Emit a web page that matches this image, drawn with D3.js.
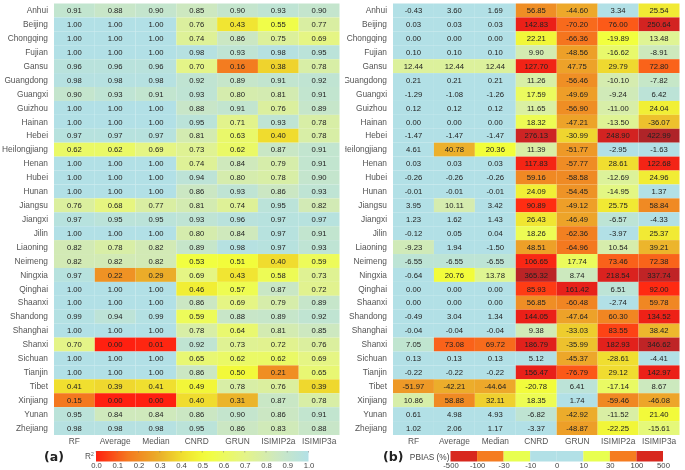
<!DOCTYPE html>
<html>
<head>
<meta charset="utf-8">
<script src="https://cdn.jsdelivr.net/npm/d3@7"></script>
<style>
  html, body { margin: 0; padding: 0; background: #fff; }
  svg { display: block; font-family: "Liberation Sans", Arial, sans-serif; filter: blur(0.3px); }
</style>
</head>
<body>
<svg id="chart"></svg>
<script>
const provinces = ['Anhui','Beijing','Chongqing','Fujian','Gansu','Guangdong','Guangxi','Guizhou','Hainan','Hebei','Heilongjiang','Henan','Hubei','Hunan','Jiangsu','Jiangxi','Jilin','Liaoning','Neimeng','Ningxia','Qinghai','Shaanxi','Shandong','Shanghai','Shanxi','Sichuan','Tianjin','Tibet','Xinjiang','Yunan','Zhejiang'];
const models = ['RF','Average','Median','CNRD','GRUN','ISIMIP2a','ISIMIP3a'];

// one row per province, same order as models
const r2Rows = [
  [0.91,0.88,0.90,0.85,0.90,0.93,0.90],
  [1.00,1.00,1.00,0.76,0.43,0.55,0.77],
  [1.00,1.00,1.00,0.74,0.86,0.75,0.69],
  [1.00,1.00,1.00,0.98,0.93,0.98,0.95],
  [0.96,0.96,0.96,0.70,0.16,0.38,0.78],
  [0.98,0.98,0.98,0.92,0.89,0.91,0.92],
  [0.90,0.93,0.91,0.93,0.80,0.81,0.91],
  [1.00,1.00,1.00,0.88,0.91,0.76,0.89],
  [1.00,1.00,1.00,0.95,0.71,0.93,0.78],
  [0.97,0.97,0.97,0.81,0.63,0.40,0.78],
  [0.62,0.62,0.69,0.73,0.62,0.87,0.91],
  [1.00,1.00,1.00,0.74,0.84,0.79,0.91],
  [1.00,1.00,1.00,0.94,0.80,0.78,0.90],
  [1.00,1.00,1.00,0.86,0.93,0.86,0.93],
  [0.76,0.68,0.77,0.81,0.74,0.95,0.82],
  [0.97,0.95,0.95,0.93,0.96,0.97,0.97],
  [1.00,1.00,1.00,0.80,0.84,0.97,0.91],
  [0.82,0.78,0.82,0.89,0.98,0.97,0.93],
  [0.82,0.82,0.82,0.53,0.51,0.40,0.59],
  [0.97,0.22,0.29,0.69,0.43,0.58,0.73],
  [1.00,1.00,1.00,0.46,0.57,0.87,0.72],
  [1.00,1.00,1.00,0.86,0.69,0.79,0.89],
  [0.99,0.94,0.99,0.59,0.88,0.89,0.92],
  [1.00,1.00,1.00,0.78,0.64,0.81,0.85],
  [0.70,0.00,0.01,0.92,0.73,0.72,0.76],
  [1.00,1.00,1.00,0.65,0.62,0.62,0.69],
  [1.00,1.00,1.00,0.86,0.50,0.21,0.65],
  [0.41,0.39,0.41,0.49,0.78,0.76,0.39],
  [0.15,0.00,0.00,0.40,0.31,0.87,0.78],
  [0.95,0.84,0.84,0.86,0.90,0.86,0.91],
  [0.98,0.98,0.98,0.95,0.86,0.83,0.88]
];
const pbiasRows = [
  [-0.43,3.60,1.69,56.85,-44.60,3.34,25.54],
  [0.03,0.03,0.03,142.83,-70.20,76.00,250.64],
  [0.00,0.00,0.00,22.21,-66.36,-19.89,13.48],
  [0.10,0.10,0.10,9.90,-48.56,-16.62,-8.91],
  [12.44,12.44,12.44,127.70,47.75,29.79,72.80],
  [0.21,0.21,0.21,11.26,-56.46,-10.10,-7.82],
  [-1.29,-1.08,-1.26,17.59,-49.69,-9.24,6.42],
  [0.12,0.12,0.12,11.65,-56.90,-11.00,24.04],
  [0.00,0.00,0.00,18.32,-47.21,-13.50,-36.07],
  [-1.47,-1.47,-1.47,276.13,-30.99,248.90,422.99],
  [4.61,40.78,20.36,11.39,-51.77,-2.95,-1.63],
  [0.03,0.03,0.03,117.83,-57.77,28.61,122.68],
  [-0.26,-0.26,-0.26,59.16,-58.58,-12.69,24.96],
  [-0.01,-0.01,-0.01,24.09,-54.45,-14.95,1.37],
  [3.95,10.11,3.42,90.89,-49.12,25.75,58.84],
  [1.23,1.62,1.43,26.43,-46.49,-6.57,-4.33],
  [-0.12,0.05,0.04,18.26,-62.36,-3.97,25.37],
  [-9.23,1.94,-1.50,48.51,-64.96,10.54,39.21],
  [-6.55,-6.55,-6.55,106.65,17.74,73.46,72.38],
  [-0.64,20.76,13.78,365.32,8.74,218.54,337.74],
  [0.00,0.00,0.00,85.93,161.42,6.51,92.00],
  [0.00,0.00,0.00,56.85,-60.48,-2.74,59.78],
  [-0.49,3.04,1.34,144.05,-47.64,60.30,134.52],
  [-0.04,-0.04,-0.04,9.38,-33.03,83.55,38.42],
  [7.05,73.08,69.72,186.79,-35.99,182.93,346.62],
  [0.13,0.13,0.13,5.12,-45.37,-28.61,-4.41],
  [-0.22,-0.22,-0.22,156.47,-76.79,29.12,142.97],
  [-51.97,-42.21,-44.64,-20.78,6.41,-17.14,8.67],
  [10.86,58.88,32.11,18.35,1.74,-59.46,-46.08],
  [0.61,4.98,4.93,-6.82,-42.92,-11.52,21.40],
  [1.02,2.06,1.17,-3.37,-48.87,-22.25,-15.61]
];

const r2Ticks = [0,0.1,0.2,0.3,0.4,0.5,0.6,0.7,0.8,0.9,1];
const pbiasTicks = ['-500','-100','-30','-10','0','10','30','100','500'];
const pbiasLegendColors = ['#d8281e','#f57c20','#e8ff50','#b2e0e6','#b2e0e6','#e8ff50','#f57c20','#d8281e'];

// colour ramps
const r2Color = d3.scaleLinear()
  .domain([0,0.15,0.3,0.4,0.52,0.7,0.85,1])
  .range(['#ff2010','#f4781f','#eab02a','#f0dc2e','#f2ff3c','#e4f488','#cde8c0','#b2e0e6']);
const pbiasColor = d3.scaleLinear()
  .domain([0,5,10,14,20,28,40,58,76,92,140,280,420])
  .range(['#b2e0e6','#b2e0e6','#d5ecb0','#e0f590','#f2ff3c','#f0e030','#ecb22c','#ef8c24','#fc5a18','#ff2a12','#ec2018','#cc2424','#b02428']);

const width = 685, height = 470;
const svg = d3.select('#chart').attr('width', width).attr('height', height);

const y = d3.scaleBand().domain(provinces).range([3.5, 435]);

function heatmap(left, right, rows, color, fmtColor, clipLeft, id) {
  const x = d3.scaleBand().domain(models).range([left, right]);
  const g = svg.append('g');

  rows.forEach((row, i) => {
    row.forEach((v, j) => {
      g.append('rect')
        .attr('x', x(models[j]))
        .attr('y', y(provinces[i]))
        .attr('width', x.bandwidth())
        .attr('height', y.bandwidth())
        .attr('fill', color(fmtColor(v)));
      g.append('text')
        .attr('x', x(models[j]) + x.bandwidth() / 2)
        .attr('y', y(provinces[i]) + y.bandwidth() / 2)
        .attr('dy', '0.35em')
        .attr('text-anchor', 'middle')
        .attr('font-size', 7.7)
        .attr('fill', '#222')
        .text(v.toFixed(2));
    });
  });

  // some province names run off the panel on the right side
  svg.append('clipPath').attr('id', id)
    .append('rect').attr('x', clipLeft).attr('y', 0).attr('width', 345).attr('height', 440);

  const wrap = svg.append('g').attr('clip-path', `url(#${id})`);
  const yAxis = wrap.append('g')
    .attr('transform', `translate(${left},0)`)
    .call(d3.axisLeft(y).tickSize(0).tickPadding(6));
  yAxis.attr('font-family', null);
  yAxis.select('.domain').remove();
  yAxis.selectAll('text').attr('font-size', 8.35).attr('fill', '#555');

  const xAxis = svg.append('g')
    .attr('transform', 'translate(0,435)')
    .call(d3.axisBottom(x).tickSize(0).tickPadding(3));
  xAxis.attr('font-family', null);
  xAxis.select('.domain').remove();
  xAxis.selectAll('text').attr('font-size', 8.35).attr('fill', '#555');
}

heatmap(54, 339.5, r2Rows, r2Color, v => v, 0, 'clipA');
heatmap(393, 679.5, pbiasRows, pbiasColor, v => Math.abs(v), 345, 'clipB');

// R2 legend
const r2Scale = d3.scaleLinear().domain([0,1]).range([96, 308.5]);
const grad = svg.append('defs').append('linearGradient').attr('id', 'r2grad');
d3.range(0, 1.001, 0.05).forEach(t => {
  grad.append('stop').attr('offset', t).attr('stop-color', r2Color(t));
});
svg.append('rect')
  .attr('x', r2Scale(0)).attr('y', 451)
  .attr('width', r2Scale(1) - r2Scale(0)).attr('height', 10.5)
  .attr('fill', 'url(#r2grad)');
const r2Axis = svg.append('g')
  .attr('transform', 'translate(0,461.5)')
  .call(d3.axisBottom(r2Scale).tickValues(r2Ticks).tickFormat(d3.format('.1f')).tickSize(0).tickPadding(1.5));
r2Axis.attr('font-family', null);
r2Axis.select('.domain').remove();
r2Axis.selectAll('text').attr('font-size', 7.7).attr('fill', '#444');
r2Ticks.forEach(t => {
  svg.append('line').attr('x1', r2Scale(t)).attr('x2', r2Scale(t)).attr('y1', 451).attr('y2', 452.5).attr('stroke', '#777').attr('stroke-width', 0.5);
});
const r2Title = svg.append('text').attr('x', 85).attr('y', 459).attr('font-size', 8.2).attr('fill', '#555').text('R');
r2Title.append('tspan').attr('dy', -3).attr('font-size', 5).text('2');

// PBIAS legend
const pbiasScale = d3.scalePoint().domain(pbiasTicks).range([450.5, 663]);
pbiasLegendColors.forEach((c, i) => {
  const x0 = pbiasScale(pbiasTicks[i]), x1 = pbiasScale(pbiasTicks[i + 1]);
  svg.append('rect').attr('x', x0).attr('y', 451).attr('width', x1 - x0).attr('height', 10.5).attr('fill', c);
});
const pbiasAxis = svg.append('g')
  .attr('transform', 'translate(0,461.5)')
  .call(d3.axisBottom(pbiasScale).tickSize(0).tickPadding(1.5));
pbiasAxis.attr('font-family', null);
pbiasAxis.select('.domain').remove();
pbiasAxis.selectAll('text').attr('font-size', 7.7).attr('fill', '#444');
svg.append('text').attr('x', 449.5).attr('y', 459.5).attr('text-anchor', 'end').attr('font-size', 8.3).attr('fill', '#444').text('PBIAS (%)');

// panel letters
svg.append('text').attr('x', 44).attr('y', 461).attr('font-family', '"DejaVu Sans", sans-serif').attr('font-weight', 'bold').attr('font-size', 12.5).attr('fill', '#222').text('(a)');
svg.append('text').attr('x', 383).attr('y', 461).attr('font-family', '"DejaVu Sans", sans-serif').attr('font-weight', 'bold').attr('font-size', 12.5).attr('fill', '#222').text('(b)');
</script>
</body>
</html>
